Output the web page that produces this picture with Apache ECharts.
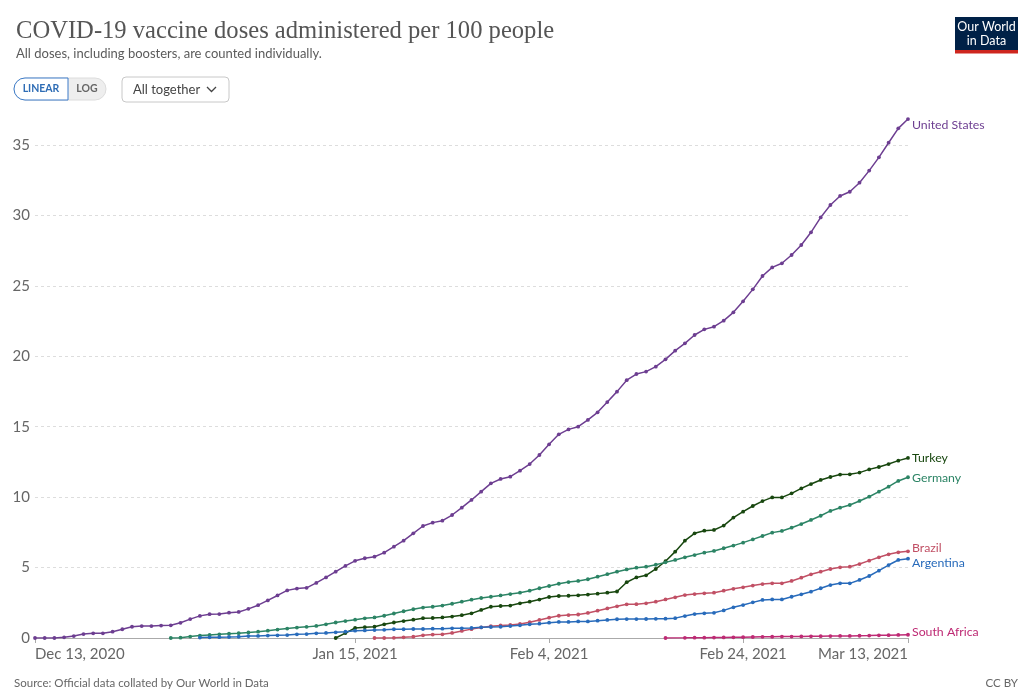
<!DOCTYPE html>
<html>
<head>
<meta charset="utf-8">
<script src="https://cdn.jsdelivr.net/npm/echarts@6/dist/echarts.min.js"></script>
<style>
  html, body { margin: 0; padding: 0; background: #fff; }
  #main { width: 1024px; height: 691px; }
</style>
</head>
<body>
<div id="main"></div>
<script>
// days counted from Dec 13, 2020 (index 0) to Mar 13, 2021 (index 90)
var firstDay = new Date(2020, 11, 13);
var dayCount = 91;
var tickLabels = { 0: 'Dec 13, 2020', 33: 'Jan 15, 2021', 53: 'Feb 4, 2021', 73: 'Feb 24, 2021', 90: 'Mar 13, 2021' };
var yTicks = [0, 5, 10, 15, 20, 25, 30, 35];

var usStart = 0;
var usValues = [0, 0, 0, 0.05, 0.14, 0.28, 0.33, 0.33, 0.45, 0.62, 0.8, 0.85, 0.85, 0.88, 0.9, 1.08, 1.34, 1.57, 1.69, 1.7, 1.8, 1.85,
  2.07, 2.33, 2.67, 3.02, 3.38, 3.51, 3.56, 3.91, 4.3, 4.71, 5.12, 5.48, 5.66, 5.77, 6.06, 6.48, 6.91, 7.43, 7.95, 8.19, 8.33,
  8.73, 9.25, 9.8, 10.39, 10.98, 11.29, 11.45, 11.88, 12.35, 12.99, 13.75, 14.46, 14.81, 15.0, 15.48, 16.02, 16.75, 17.49,
  18.3, 18.74, 18.91, 19.26, 19.78, 20.4, 20.92, 21.51, 21.91, 22.1, 22.53, 23.12, 23.9, 24.75, 25.7, 26.31, 26.6, 27.19,
  27.9, 28.8, 29.86, 30.74, 31.38, 31.68, 32.32, 33.18, 34.12, 35.16, 36.18, 36.84];

var turkeyStart = 31;
var turkeyValues = [0, 0.35, 0.71, 0.77, 0.8, 0.97, 1.1, 1.2, 1.3, 1.41, 1.42, 1.46, 1.52, 1.62, 1.75, 1.99, 2.22, 2.27, 2.3,
  2.46, 2.58, 2.73, 2.91, 2.98, 3.0, 3.03, 3.08, 3.15, 3.22, 3.3, 3.96, 4.3, 4.45, 4.9, 5.45, 6.13, 6.91, 7.43, 7.62, 7.67,
  7.98, 8.55, 8.97, 9.37, 9.72, 9.98, 9.98, 10.27, 10.62, 10.93, 11.22, 11.43, 11.6, 11.62, 11.74, 11.97, 12.14, 12.35, 12.59, 12.78];

var germanyStart = 14;
var germanyValues = [0, 0.02, 0.1, 0.17, 0.22, 0.26, 0.31, 0.34, 0.39, 0.45, 0.52, 0.6, 0.67, 0.74, 0.79, 0.86, 0.97, 1.1, 1.2,
  1.3, 1.4, 1.46, 1.58, 1.74, 1.9, 2.04, 2.16, 2.22, 2.3, 2.43, 2.58, 2.72, 2.84, 2.93, 3.02, 3.12, 3.22, 3.36, 3.53, 3.69,
  3.85, 3.97, 4.05, 4.17, 4.35, 4.53, 4.71, 4.87, 4.99, 5.06, 5.2, 5.37, 5.54, 5.73, 5.89, 6.06, 6.18, 6.37, 6.56, 6.77, 7.0,
  7.24, 7.48, 7.6, 7.83, 8.09, 8.38, 8.68, 9.02, 9.25, 9.44, 9.73, 10.03, 10.39, 10.74, 11.15, 11.41];

var brazilStart = 35;
var brazilValues = [0, 0, 0.01, 0.05, 0.09, 0.19, 0.24, 0.26, 0.36, 0.5, 0.63, 0.75, 0.84, 0.89, 0.93, 1.0, 1.12, 1.28, 1.44,
  1.58, 1.63, 1.67, 1.78, 1.94, 2.1, 2.25, 2.39, 2.4, 2.46, 2.58, 2.74, 2.89, 3.05, 3.12, 3.17, 3.22, 3.36, 3.49, 3.6, 3.72,
  3.83, 3.88, 3.88, 4.05, 4.28, 4.52, 4.71, 4.9, 5.02, 5.06, 5.25, 5.49, 5.73, 5.94, 6.08, 6.15];

var argentinaStart = 17;
var argentinaValues = [0.03, 0.05, 0.06, 0.07, 0.09, 0.14, 0.15, 0.17, 0.19, 0.21, 0.26, 0.28, 0.33, 0.36, 0.4, 0.45, 0.52, 0.54,
  0.56, 0.58, 0.62, 0.62, 0.64, 0.64, 0.66, 0.66, 0.69, 0.69, 0.71, 0.76, 0.78, 0.8, 0.85, 0.9, 0.97, 1.02, 1.09, 1.14, 1.14,
  1.18, 1.18, 1.23, 1.28, 1.33, 1.34, 1.34, 1.35, 1.36, 1.37, 1.41, 1.56, 1.7, 1.75, 1.79, 1.96, 2.18, 2.34, 2.53, 2.7, 2.74,
  2.74, 2.93, 3.1, 3.29, 3.53, 3.76, 3.88, 3.88, 4.12, 4.4, 4.78, 5.18, 5.54, 5.63];

var southAfricaStart = 65;
var southAfricaValues = [0, null, 0.01, 0.02, 0.02, 0.03, 0.04, 0.05, 0.06, 0.07, 0.08, 0.09, 0.1, 0.1, 0.11, 0.12, 0.13, 0.14,
  0.15, 0.15, 0.16, 0.17, 0.19, 0.2, 0.22, 0.23];

var months = ['Jan', 'Feb', 'Mar', 'Apr', 'May', 'Jun', 'Jul', 'Aug', 'Sep', 'Oct', 'Nov', 'Dec'];
var days = [];
for (var i = 0; i < dayCount; i++) {
  var d = new Date(firstDay.getFullYear(), firstDay.getMonth(), firstDay.getDate() + i);
  days.push(months[d.getMonth()] + ' ' + d.getDate() + ', ' + d.getFullYear());
}

function pad(start, values) {
  var out = [];
  for (var i = 0; i < start; i++) out.push(null);
  return out.concat(values);
}

function makeSeries(name, color, start, values, offsetY) {
  return {
    name: name,
    type: 'line',
    data: pad(start, values),
    connectNulls: true,
    symbol: 'circle',
    symbolSize: 3.8,
    showAllSymbol: true,
    lineStyle: { width: 1.5, color: color },
    itemStyle: { color: color },
    emphasis: { disabled: true },
    endLabel: {
      show: true,
      formatter: name,
      color: color,
      fontSize: 12.3,
      fontFamily: 'Lato',
      distance: 4,
      offset: [0, offsetY]
    }
  };
}

var dom = document.getElementById('main');
var myChart = echarts.init(dom);

var option = {
  animation: false,
  title: {
    text: 'COVID-19 vaccine doses administered per 100 people',
    subtext: 'All doses, including boosters, are counted individually.',
    left: 11,
    top: 14,
    itemGap: 3,
    textStyle: { fontFamily: 'Liberation Serif', fontSize: 24.6, fontWeight: 'normal', color: '#555' },
    subtextStyle: { fontFamily: 'Lato', fontSize: 13, color: '#5b5b5b' }
  },
  grid: { left: 35, right: 116, top: 116.8, bottom: 53, containLabel: false },
  xAxis: {
    type: 'category',
    data: days,
    boundaryGap: false,
    axisLine: { lineStyle: { color: '#aaa', width: 1 } },
    axisTick: {
      interval: function (index) { return tickLabels[index] !== undefined; },
      length: 5,
      lineStyle: { color: '#aaa' }
    },
    axisLabel: {
      interval: function (index) { return tickLabels[index] !== undefined; },
      formatter: function (value, index) { return tickLabels[index] || ''; },
      color: '#666',
      fontFamily: 'Lato',
      fontSize: 15,
      margin: 9,
      alignMinLabel: 'left',
      alignMaxLabel: 'right'
    },
    splitLine: { show: false }
  },
  yAxis: {
    type: 'value',
    min: 0,
    max: 37,
    interval: 5,
    axisLine: { show: false },
    axisTick: { show: false },
    axisLabel: {
      color: '#666',
      fontFamily: 'Lato',
      fontSize: 15,
      margin: 5,
      showMaxLabel: false,
      formatter: function (v) { return yTicks.indexOf(v) >= 0 ? String(v) : ''; }
    },
    splitLine: {
      showMinLine: false,
      showMaxLine: false,
      lineStyle: { color: '#ddd', type: [3, 3], width: 1 }
    }
  },
  series: [
    makeSeries('United States', '#6d3e91', usStart, usValues, 6),
    makeSeries('Turkey', '#18470f', turkeyStart, turkeyValues, 0),
    makeSeries('Germany', '#2c8465', germanyStart, germanyValues, 1),
    makeSeries('Brazil', '#c15065', brazilStart, brazilValues, -3),
    makeSeries('Argentina', '#286bbb', argentinaStart, argentinaValues, 4),
    makeSeries('South Africa', '#be2a74', southAfricaStart, southAfricaValues, -3)
  ],
  graphic: [
    // linear / log toggle
    { type: 'rect', shape: { x: 14, y: 78, width: 92, height: 22, r: 11 }, style: { fill: '#eeeeee', stroke: '#dcdcdc' } },
    { type: 'rect', shape: { x: 14, y: 78, width: 54, height: 22, r: [11, 0, 0, 11] }, style: { fill: '#fff', stroke: '#3c7bc8', lineWidth: 1 } },
    { type: 'text', x: 41, y: 89, style: { text: 'LINEAR', fill: '#2f6db5', font: 'bold 10.5px Lato', align: 'center', verticalAlign: 'middle' } },
    { type: 'text', x: 87, y: 89, style: { text: 'LOG', fill: '#666', font: 'bold 10.5px Lato', align: 'center', verticalAlign: 'middle' } },
    // dropdown
    { type: 'rect', shape: { x: 122, y: 77, width: 107, height: 25, r: 4 }, style: { fill: '#fff', stroke: '#c8c8c8' } },
    { type: 'text', x: 133, y: 89.5, style: { text: 'All together', fill: '#444', font: '13px Lato', verticalAlign: 'middle' } },
    { type: 'polyline', shape: { points: [[207, 87], [211.5, 91.5], [216, 87]] }, style: { stroke: '#444', lineWidth: 1.3, fill: null } },
    // logo
    { type: 'rect', shape: { x: 955, y: 17, width: 63, height: 33 }, style: { fill: '#002147' } },
    { type: 'rect', shape: { x: 955, y: 50, width: 63, height: 3.5 }, style: { fill: '#ce261e' } },
    { type: 'text', x: 986.5, y: 27, style: { text: 'Our World', fill: '#fff', font: '12.5px Lato', align: 'center', verticalAlign: 'middle' } },
    { type: 'text', x: 986.5, y: 41, style: { text: 'in Data', fill: '#fff', font: '12.5px Lato', align: 'center', verticalAlign: 'middle' } },
    // footer
    { type: 'text', x: 14, y: 683, style: { text: 'Source: Official data collated by Our World in Data', fill: '#666', font: '11.5px Lato', verticalAlign: 'middle' } },
    { type: 'text', x: 1018, y: 683, style: { text: 'CC BY', fill: '#666', font: '11.5px Lato', align: 'right', verticalAlign: 'middle' } }
  ]
};

myChart.setOption(option);
</script>
</body>
</html>
